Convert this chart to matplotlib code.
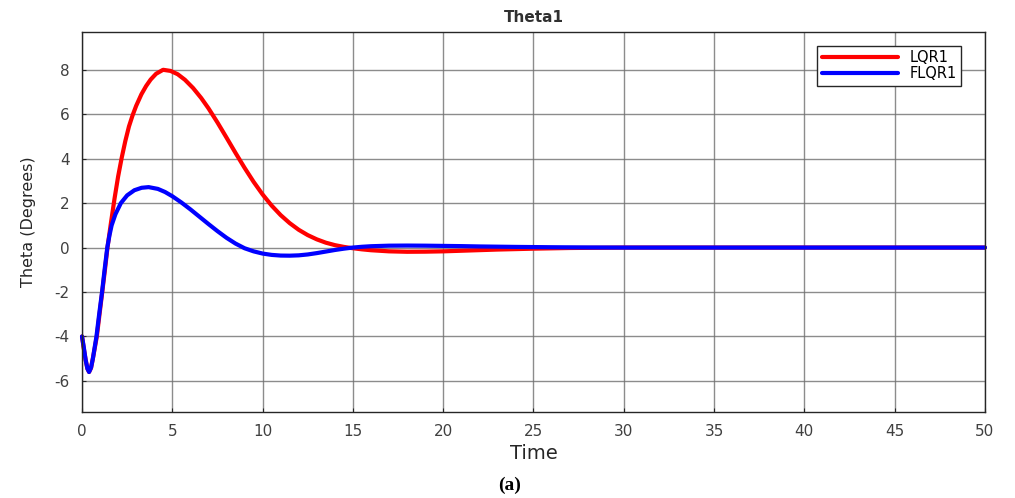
import matplotlib
matplotlib.use('Agg')
import matplotlib.pyplot as plt

plt.rcParams['font.family'] = ['DejaVu Sans']
plt.rcParams['axes.unicode_minus'] = False

# LQR1 response
t_lqr = [0, 0.1, 0.2, 0.3, 0.39, 0.5, 0.6, 0.7, 0.82, 0.97, 1.12, 1.27, 1.41,
         1.6, 1.8, 2.0, 2.2, 2.4, 2.6, 2.8, 3.0, 3.29, 3.55, 3.8, 4.1, 4.49,
         4.9, 5.3, 5.7, 6.15, 6.6, 7.0, 7.5, 8.0, 8.5, 9.0, 9.5, 10.0, 10.5,
         11.0, 11.5, 12.0, 12.5, 13.0, 13.5, 14.0, 14.5, 14.9, 15.5, 16.0,
         17.0, 18.0, 19.0, 20.0, 21.5, 23.0, 25.0, 27.0, 30.0, 35.0, 50.0]
theta_lqr = [-4.0, -4.55, -5.05, -5.45, -5.6, -5.42, -5.0, -4.55, -4.0, -3.0,
             -2.0, -1.0, 0.0, 1.1, 2.2, 3.2, 4.05, 4.8, 5.45, 5.95, 6.38, 6.9,
             7.27, 7.56, 7.82, 8.0, 7.95, 7.8, 7.55, 7.18, 6.73, 6.27, 5.63,
             4.95, 4.26, 3.59, 2.96, 2.39, 1.89, 1.46, 1.1, 0.8, 0.56, 0.37,
             0.22, 0.11, 0.03, -0.02, -0.08, -0.12, -0.17, -0.19, -0.185,
             -0.17, -0.13, -0.09, -0.05, -0.02, 0.0, 0.0, 0.0]

# FLQR1 response
t_flqr = [0, 0.1, 0.2, 0.3, 0.39, 0.5, 0.6, 0.7, 0.8, 0.95, 1.11, 1.25, 1.4,
          1.52, 1.64, 1.85, 2.15, 2.5, 2.9, 3.3, 3.69, 4.2, 4.6, 5.0, 5.5, 6.0,
          6.5, 7.0, 7.5, 8.0, 8.5, 9.0, 9.5, 10.0, 10.5, 11.0, 11.5, 12.0,
          12.5, 13.0, 13.5, 14.0, 14.5, 15.0, 15.5, 16.0, 17.0, 18.0, 19.0,
          20.0, 21.0, 22.0, 24.0, 26.0, 28.0, 30.0, 50.0]
theta_flqr = [-4.0, -4.5, -5.05, -5.45, -5.6, -5.4, -5.0, -4.5, -4.0, -3.0,
              -2.0, -1.0, 0.0, 0.55, 1.0, 1.5, 2.0, 2.35, 2.58, 2.69, 2.72,
              2.64, 2.5, 2.31, 2.03, 1.72, 1.39, 1.06, 0.74, 0.44, 0.18, -0.03,
              -0.17, -0.27, -0.33, -0.36, -0.365, -0.35, -0.31, -0.25, -0.18,
              -0.11, -0.05, 0.0, 0.035, 0.06, 0.085, 0.09, 0.085, 0.075, 0.065,
              0.05, 0.03, 0.015, 0.005, 0.0, 0.0]

xticks = list(range(0, 51, 5))
yticks = list(range(-6, 9, 2))

fig = plt.figure(figsize=(10.15, 4.98), dpi=100)
ax = fig.add_axes([0.0808, 0.1727, 0.8896, 0.763])

ax.plot(t_lqr, theta_lqr, color='#ff0000', lw=3, label='LQR1',
        solid_joinstyle='round', solid_capstyle='round', clip_on=False)
ax.plot(t_flqr, theta_flqr, color='#0000ff', lw=3, label='FLQR1',
        solid_joinstyle='round', solid_capstyle='round', clip_on=False)

ax.set_xlim(0, 50)
ax.set_ylim(-7.4, 9.7)
ax.set_xticks(xticks)
ax.set_yticks(yticks)
ax.grid(True, color='#707070', lw=1.0, alpha=0.8)
ax.set_axisbelow(True)
ax.tick_params(direction='in', length=3, colors='#262626', labelsize=11,
               labelcolor='#404040')
ax.tick_params(axis='x', pad=9)
ax.tick_params(axis='y', pad=9)
for s in ax.spines.values():
    s.set_color('#262626')
    s.set_linewidth(1.0)

ax.set_title('Theta1', fontsize=11, fontweight='bold', color='#303030', pad=7)
ax.set_xlabel('Time', fontsize=14, color='#262626', va='center')
ax.xaxis.set_label_coords(0.5, -0.108)
ax.set_ylabel('Theta (Degrees)', fontsize=11.5, color='#262626', va='center')
ax.yaxis.set_label_coords(-0.0598, 0.5)

leg = ax.legend(loc='upper right', bbox_to_anchor=(0.9734, 0.9645),
                borderaxespad=0, fontsize=10.5, frameon=True, fancybox=False,
                handlelength=5.2, borderpad=0.3, labelspacing=0.1,
                handletextpad=0.8)
leg.get_frame().set_edgecolor('#262626')
leg.get_frame().set_linewidth(1.0)
leg.get_frame().set_alpha(1)

fig.text(0.502, 0.026, '(a)', ha='center', va='center', fontsize=14,
         fontweight='bold', family=['Liberation Serif', 'DejaVu Serif'])

plt.savefig('out.png', dpi=100)
plt.close()
